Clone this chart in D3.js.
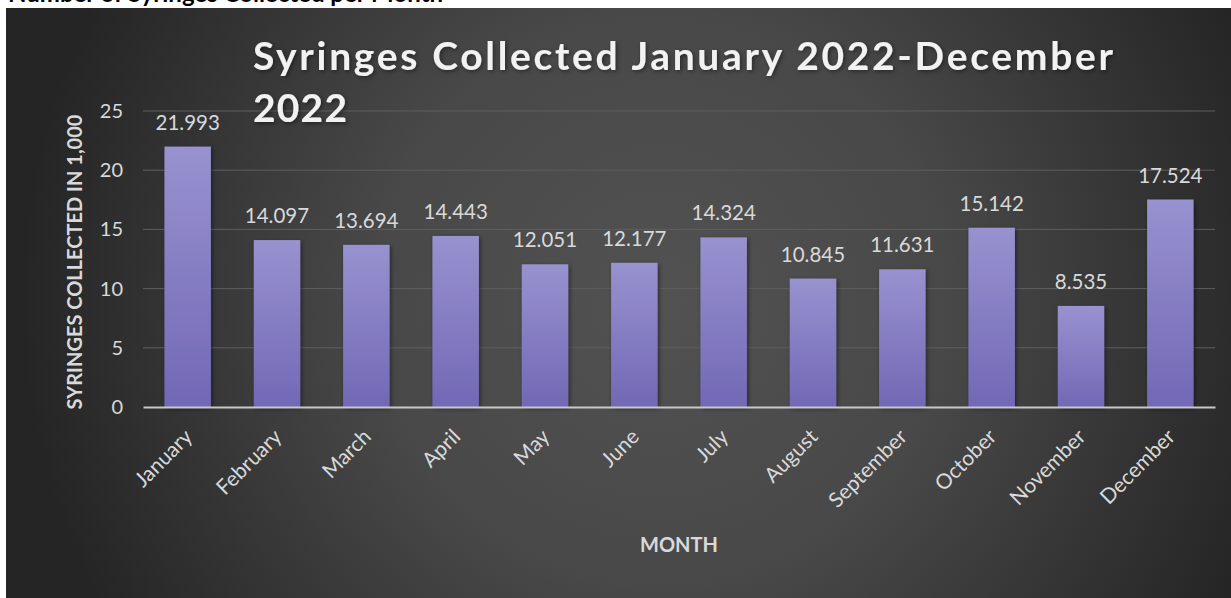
<!DOCTYPE html>
<html>
<head>
<meta charset="utf-8">
<script src="https://cdn.jsdelivr.net/npm/d3@7"></script>
<style>
  body { margin: 0; background: #fff; }
  svg { display: block; }
</style>
</head>
<body>
<svg id="chart" width="1231" height="598"></svg>
<script>
const months = ['January', 'February', 'March', 'April', 'May', 'June', 'July',
    'August', 'September', 'October', 'November', 'December']
const collected = [21.993, 14.097, 13.694, 14.443, 12.051, 12.177, 14.324,
    10.845, 11.631, 15.142, 8.535, 17.524]
const yTicks = [0, 5, 10, 15, 20, 25]

function main() {
    let svg = d3.select('#chart'),
        margin = {top: 111, bottom: 191, left: 143, right: 16},
        width = svg.attr('width') - margin.left - margin.right,
        height = svg.attr('height') - margin.top - margin.bottom

    let defs = svg.append('defs')
    let bg = defs.append('radialGradient').attr('id', 'bg')
        .attr('gradientUnits', 'userSpaceOnUse')
        .attr('cx', 660).attr('cy', 300).attr('r', 640)
    bg.append('stop').attr('offset', '0%').attr('stop-color', '#525252')
    bg.append('stop').attr('offset', '45%').attr('stop-color', '#484848')
    bg.append('stop').attr('offset', '100%').attr('stop-color', '#252525')

    let barGrad = defs.append('linearGradient').attr('id', 'bar')
        .attr('x1', 0).attr('y1', 0).attr('x2', 0).attr('y2', 1)
    barGrad.append('stop').attr('offset', '0%').attr('stop-color', '#9892cf')
    barGrad.append('stop').attr('offset', '100%').attr('stop-color', '#7268b6')

    let shadow = defs.append('filter').attr('id', 'shadow')
        .attr('x', '-20%').attr('y', '-20%').attr('width', '140%').attr('height', '140%')
    shadow.append('feDropShadow').attr('dx', 1.5).attr('dy', 1.5)
        .attr('stdDeviation', 2).attr('flood-color', '#000').attr('flood-opacity', 0.45)

    // heading above the chart panel, cut off by the page top as in the source
    svg.append('text')
        .attr('x', 8).attr('y', 2)
        .attr('font-family', 'Lato, sans-serif')
        .attr('font-weight', 'bold')
        .attr('font-size', 24)
        .attr('fill', '#000')
        .text('Number of Syringes Collected per Month')

    svg.append('rect')
        .attr('x', 6).attr('y', 8)
        .attr('width', 1225).attr('height', 590)
        .attr('fill', 'url(#bg)')

    let g = svg.append('g').attr('transform', 'translate(' + margin.left + ',' + margin.top + ')')

    let x = d3.scaleBand().domain(months).range([0, width]).paddingInner(0.48).paddingOuter(0.24),
        y = d3.scaleLinear().domain([0, 25]).range([height, 0])

    // gridlines
    g.append('g')
        .selectAll('line')
        .data(yTicks.filter(d => d > 0))
        .enter().append('line')
        .attr('x1', 0).attr('x2', width)
        .attr('y1', d => y(d)).attr('y2', d => y(d))
        .attr('stroke', '#5e5e5e')
        .attr('stroke-width', 1)

    // y axis labels
    let yAxis = g.append('g')
        .call(d3.axisLeft(y).tickValues(yTicks).tickSize(0).tickPadding(20))
    yAxis.select('.domain').remove()
    yAxis.selectAll('text')
        .attr('font-family', 'Lato, sans-serif')
        .attr('font-size', 20)
        .attr('fill', '#d9d9d9')

    // bars
    g.selectAll('.bar')
        .data(collected)
        .enter().append('rect')
        .attr('class', 'bar')
        .attr('x', (d, i) => x(months[i]))
        .attr('y', d => y(d))
        .attr('width', x.bandwidth())
        .attr('height', d => height - y(d))
        .attr('fill', 'url(#bar)')
        .attr('filter', 'url(#shadow)')

    // value labels
    g.selectAll('.value')
        .data(collected)
        .enter().append('text')
        .attr('class', 'value')
        .attr('x', (d, i) => x(months[i]) + x.bandwidth() / 2)
        .attr('y', d => y(d) - 17)
        .attr('text-anchor', 'middle')
        .attr('font-family', 'Lato, sans-serif')
        .attr('font-size', 20.5)
        .attr('fill', '#d9d9d9')
        .text(d => d3.format('.3f')(d))

    // x axis
    let xAxis = g.append('g')
        .attr('transform', 'translate(0,' + height + ')')
        .call(d3.axisBottom(x).tickSize(0).tickPadding(0))
    xAxis.select('.domain')
        .attr('stroke', '#c8c8c8')
        .attr('stroke-width', 2)
    xAxis.selectAll('text')
        .attr('font-family', 'Lato, sans-serif')
        .attr('font-size', 21)
        .attr('fill', '#d9d9d9')
        .attr('text-anchor', 'end')
        .attr('dy', 0)
        .attr('transform', 'translate(6,31) rotate(-45)')

    svg.append('text')
        .attr('x', margin.left + width / 2)
        .attr('y', 552)
        .attr('text-anchor', 'middle')
        .attr('font-family', 'Lato, sans-serif')
        .attr('font-weight', 'bold')
        .attr('font-size', 20)
        .attr('fill', '#d9d9d9')
        .text('MONTH')

    svg.append('text')
        .attr('transform', 'translate(82,' + (margin.top + height / 2 + 3) + ') rotate(-90)')
        .attr('text-anchor', 'middle')
        .attr('font-family', 'Lato, sans-serif')
        .attr('font-weight', 'bold')
        .attr('font-size', 20)
        .attr('fill', '#d9d9d9')
        .text('SYRINGES COLLECTED IN 1,000')

    // title
    let title = svg.append('g')
        .attr('font-family', 'Lato, sans-serif')
        .attr('font-weight', 'bold')
        .attr('font-size', 39)
        .attr('fill', '#f2f2f2')
        .attr('filter', 'url(#shadow)')
    title.append('text')
        .attr('x', 253).attr('y', 70)
        .attr('textLength', 860)
        .attr('lengthAdjust', 'spacing')
        .text('Syringes Collected January 2022-December')
    title.append('text')
        .attr('x', 253).attr('y', 122)
        .attr('textLength', 94)
        .attr('lengthAdjust', 'spacing')
        .text('2022')
}

main()
</script>
</body>
</html>
